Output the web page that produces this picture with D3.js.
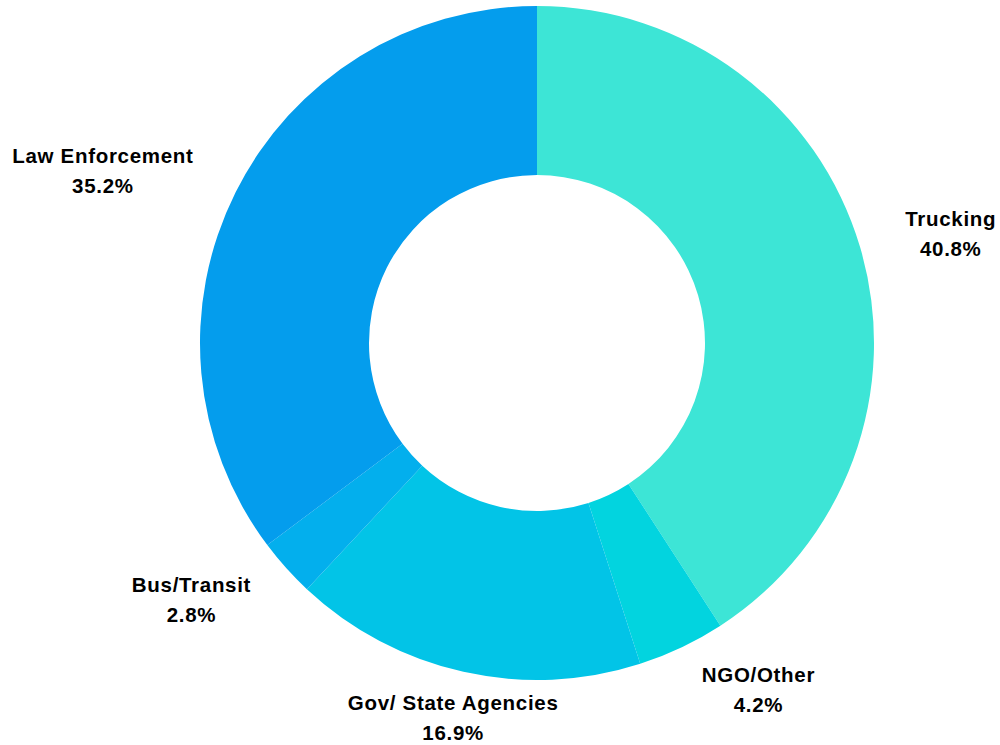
<!DOCTYPE html>
<html>
<head>
<meta charset="utf-8">
<script src="https://cdn.jsdelivr.net/npm/d3@7"></script>
<style>
  body { margin: 0; background: #fff; }
  .label text { font-family: "Liberation Sans", Arial, sans-serif; font-weight: bold; font-size: 20.5px; letter-spacing: 0.7px; fill: #000; }
</style>
</head>
<body>
<div id="chart"></div>
<script>
// Data (share of total, %)
const categories = ["Trucking", "NGO/Other", "Gov/ State Agencies", "Bus/Transit", "Law Enforcement"];
const values = [40.8, 4.2, 16.9, 2.8, 35.2];
const colors = ["#3de5d6", "#02d4df", "#02c4e7", "#03afed", "#049ded"];

const width = 1000, height = 745;
const cx = 537, cy = 343;
const outerR = 337, innerR = 168;
const labelGap = 47;

const svg = d3.select("#chart").append("svg")
  .attr("width", width)
  .attr("height", height);

const g = svg.append("g").attr("transform", `translate(${cx},${cy})`);

const data = categories.map((c, i) => ({ name: c, value: values[i], color: colors[i] }));

const pie = d3.pie().sort(null).value(d => d.value);
const arc = d3.arc().innerRadius(innerR).outerRadius(outerR);

const arcs = pie(data);

g.selectAll("path")
  .data(arcs)
  .join("path")
  .attr("d", arc)
  .attr("fill", d => d.data.color);

// Labels sit just outside the ring; near-vertical ones are centred, others pushed sideways
const labels = g.selectAll("g.label")
  .data(arcs)
  .join("g")
  .attr("class", "label");

labels.each(function (d) {
  const el = d3.select(this);
  const mid = (d.startAngle + d.endAngle) / 2;
  const sx = Math.sin(mid), sy = -Math.cos(mid);
  const r = outerR + labelGap;
  const bx = sx * r, by = sy * r;

  const t1 = el.append("text").attr("text-anchor", "middle").attr("y", -15).attr("dy", "0.35em").text(d.data.name);
  const t2 = el.append("text").attr("text-anchor", "middle").attr("y", 15).attr("dy", "0.35em").text(d.data.value.toFixed(1) + "%");

  const w = Math.max(t1.node().getComputedTextLength(), t2.node().getComputedTextLength());
  let x = bx;
  if (Math.abs(sx) >= 0.3) x = bx + Math.sign(sx) * w / 2;
  el.attr("transform", `translate(${x},${by})`);
});
</script>
</body>
</html>
